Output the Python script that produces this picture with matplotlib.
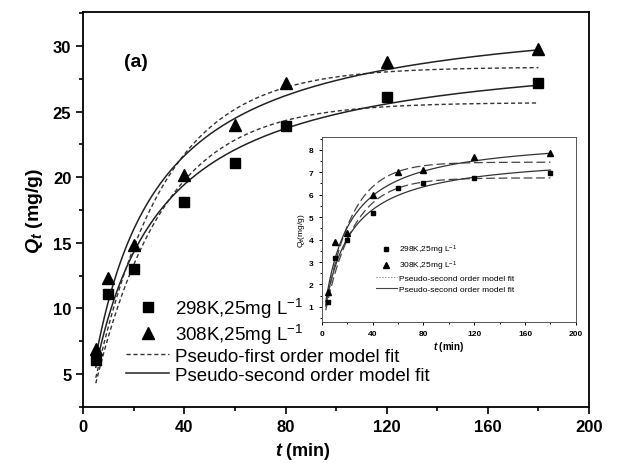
import matplotlib
matplotlib.use("Agg")
import matplotlib.pyplot as plt
import numpy as np
from matplotlib.ticker import MultipleLocator

plt.rcParams['font.family'] = ['Liberation Sans', 'DejaVu Sans']
plt.rcParams['mathtext.fontset'] = 'custom'
plt.rcParams['mathtext.it'] = 'Liberation Sans:italic:bold'
plt.rcParams['mathtext.rm'] = 'Liberation Sans'

# === main data (mg/g) ===
t_main = [5, 10, 20, 40, 60, 80, 120, 180]
q_298 = [6.1, 11.1, 13.0, 18.1, 21.1, 23.9, 26.1, 27.2]
q_308 = [6.9, 12.3, 14.8, 20.2, 24.0, 27.2, 28.8, 29.8]

# fit parameters: (qe, k)
pfo_main = {'298': (25.7, 0.0366), '308': (28.4, 0.0363)}
pso_main = {'298': (30.4, 0.00146), '308': (33.26, 0.00140)}

# === inset data ===
t_ins = [5, 10, 20, 40, 60, 80, 120, 180]
qi_298 = [1.2, 3.2, 4.0, 5.2, 6.3, 6.5, 6.75, 6.95]
qi_308 = [1.65, 3.9, 4.3, 6.0, 7.0, 7.1, 7.7, 7.85]
pfo_ins = {'298': (6.75, 0.045), '308': (7.45, 0.048)}
pso_ins = {'298': (7.84, 0.0068), '308': (8.63, 0.00645)}


def pfo(t, qe, k):
    return qe * (1 - np.exp(-k * t))


def pso(t, qe, k):
    return qe ** 2 * k * t / (1 + qe * k * t)


fig = plt.figure(figsize=(6.3, 4.64), dpi=100)
ax = fig.add_axes([0.132, 0.121, 0.803, 0.851])

tt = np.linspace(5, 180, 300)
for key in ['298', '308']:
    ax.plot(tt, pfo(tt, *pfo_main[key]), color='#333333', lw=1.0, ls=(0, (3, 2)))
    ax.plot(tt, pso(tt, *pso_main[key]), color='#222222', lw=1.1)

ax.plot(t_main, q_298, 's', color='black', ms=7, label='298K,25mg L$\\mathregular{^{-1}}$')
ax.plot(t_main, q_308, '^', color='black', ms=8, label='308K,25mg L$\\mathregular{^{-1}}$')
ax.plot([], [], color='#333333', lw=1.0, ls=(0, (3, 2)), label='Pseudo-first order model fit')
ax.plot([], [], color='#222222', lw=1.1, label='Pseudo-second order model fit')

ax.set_xlim(0, 200)
ax.set_ylim(2.5, 32.6)
ax.xaxis.set_major_locator(MultipleLocator(40))
ax.xaxis.set_minor_locator(MultipleLocator(20))
ax.yaxis.set_major_locator(MultipleLocator(5))
ax.yaxis.set_minor_locator(MultipleLocator(2.5))
ax.tick_params(which='both', direction='out', width=1.2)
ax.tick_params(which='major', length=5, labelsize=12)
ax.tick_params(which='minor', length=3)
for lab in ax.get_xticklabels() + ax.get_yticklabels():
    lab.set_fontweight('bold')
for sp in ax.spines.values():
    sp.set_linewidth(1.3)

ax.set_xlabel('$t$ (min)', fontsize=13, fontweight='bold')
ax.xaxis.set_label_coords(0.435, -0.085)
ax.set_ylabel('$Q_t$ (mg/g)', fontsize=14, fontweight='bold', labelpad=6)
ax.text(16, 28.8, '(a)', fontsize=14, fontweight='bold', va='center')

ax.legend(loc='lower left', bbox_to_anchor=(0.07, 0.04), frameon=False,
          fontsize=13.5, handlelength=2.3, handletextpad=0.3, labelspacing=0.1,
          borderaxespad=0.0)

# === inset ===
ins = fig.add_axes([0.511, 0.304, 0.403, 0.399])
ti = np.linspace(3, 180, 300)
for key in ['298', '308']:
    ins.plot(ti, pfo(ti, *pfo_ins[key]), color='#444444', lw=0.9, ls=(0, (7, 3)))
    ins.plot(ti, pso(ti, *pso_ins[key]), color='#333333', lw=0.9)
ins.plot(t_ins, qi_298, 's', color='black', ms=3.5, label='298K,25mg L$\\mathregular{^{-1}}$')
ins.plot(t_ins, qi_308, '^', color='black', ms=4, label='308K,25mg L$\\mathregular{^{-1}}$')
ins.plot([], [], color='#777777', lw=0.8, ls=':', label='Pseudo-second order model fit')
ins.plot([], [], color='#444444', lw=0.8, label='Pseudo-second order model fit')

ins.set_xlim(0, 200)
ins.set_ylim(0.33, 8.58)
ins.xaxis.set_major_locator(MultipleLocator(40))
ins.xaxis.set_minor_locator(MultipleLocator(20))
ins.yaxis.set_major_locator(MultipleLocator(1))
ins.yaxis.set_minor_locator(MultipleLocator(0.5))
ins.tick_params(which='both', direction='out', width=0.7, labelsize=6)
ins.tick_params(which='major', length=2.5)
ins.tick_params(which='minor', length=1.5)
for lab in ins.get_xticklabels() + ins.get_yticklabels():
    lab.set_fontweight('bold')
for sp in ins.spines.values():
    sp.set_linewidth(0.7)
    sp.set_color('#555555')
ins.set_xlabel('$t$ (min)', fontsize=7, fontweight='bold', labelpad=1)
ins.set_ylabel('Q$_t$(mg/g)', fontsize=6, labelpad=1)
ins.legend(loc='lower left', bbox_to_anchor=(0.2, 0.14), frameon=False,
           fontsize=6, handlelength=2.5, handletextpad=0.3, labelspacing=0.3,
           borderaxespad=0.0)

fig.savefig('out.png', dpi=100)
